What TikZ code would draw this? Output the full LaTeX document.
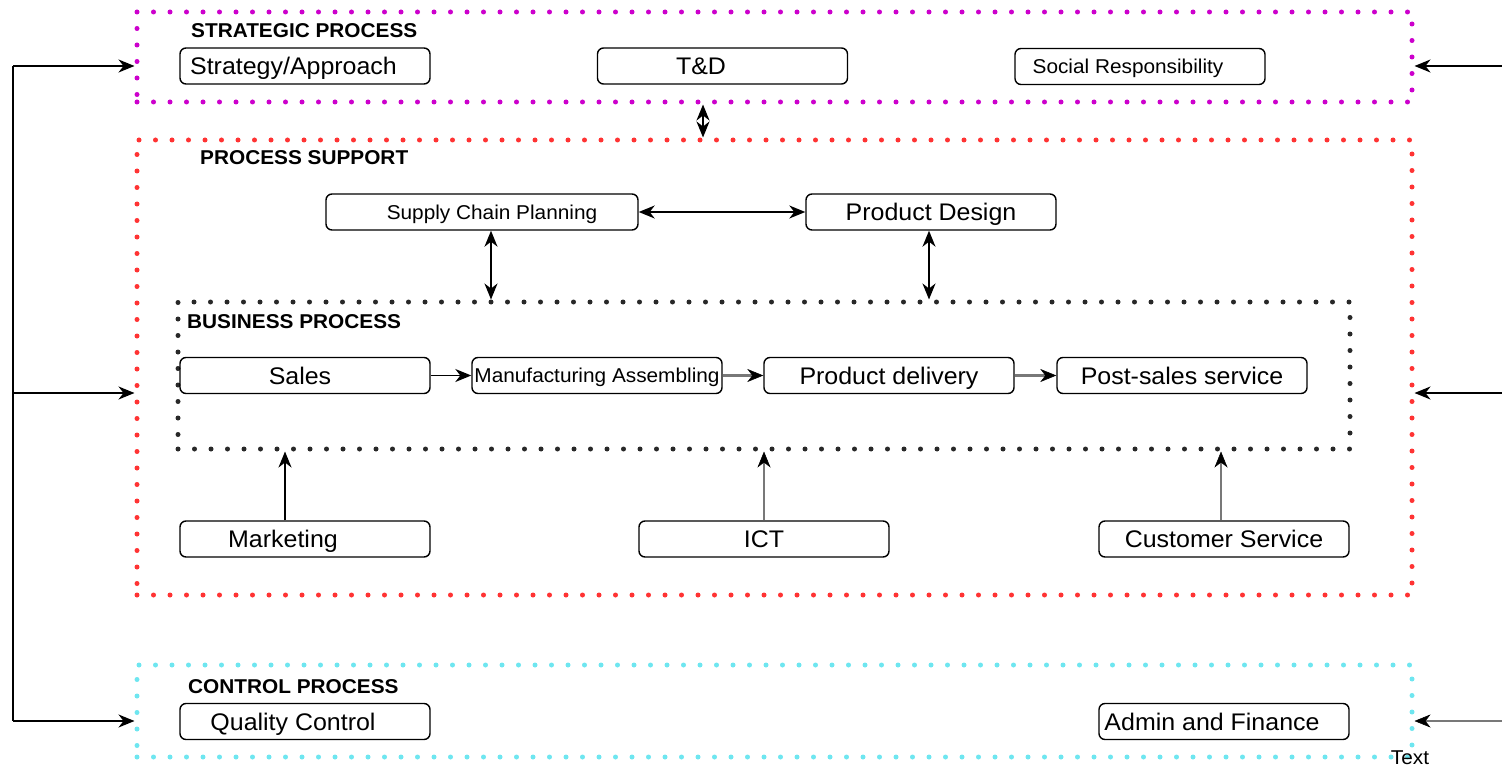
\documentclass[tikz,border=0pt]{standalone}
\usepackage{fontspec}
\setmainfont[FakeStretch=1.04]{Liberation Sans}
\usetikzlibrary{arrows.meta}
\definecolor{magc}{RGB}{204,0,204}
\definecolor{redc}{RGB}{255,51,51}
\definecolor{cyanc}{RGB}{110,230,240}
\definecolor{grayc}{RGB}{120,120,120}
\definecolor{darkc}{RGB}{40,40,40}
\tikzset{
  box/.style={draw, line width=1.4pt, rounded corners=6pt, minimum width=250pt, minimum height=36pt, inner sep=0pt, text height=17.2pt, text depth=0pt, font=\fontsize{24}{26}\selectfont},
  sbox/.style={box, text height=14.3pt, font=\fontsize{20}{22}\selectfont},
  grp/.style={line width=5pt, line cap=round, dash pattern=on 0pt off 16.5pt, inner sep=0pt},
  hdr/.style={font=\fontsize{20}{22}\selectfont\bfseries, inner sep=0pt},
  arr/.style={line width=1.5pt, -{Stealth[length=16pt,width=13pt,inset=5pt]}},
  dbl/.style={line width=1.5pt, {Stealth[length=16pt,width=13pt,inset=5pt]}-{Stealth[length=16pt,width=13pt,inset=5pt]}},
  garr/.style={draw=grayc, line width=2.4pt, -{Stealth[length=16pt,width=13pt,inset=5pt,color=black,line width=0.5pt]}}
}
\begin{document}
\begin{tikzpicture}[x=1pt,y=-1pt]
\useasboundingbox (0,0) rectangle (1502,770);
% groups
\node[grp, draw=magc, minimum width=1275pt, minimum height=90pt] (strat) at (774.5,57) {};
\node[grp, draw=redc, minimum width=1275pt, minimum height=455pt] (sup) at (774.5,367.5) {};
\node[grp, draw=darkc, minimum width=1172pt, minimum height=147pt] (bus) at (764,375.5) {};
\node[grp, draw=cyanc, minimum width=1275pt, minimum height=92pt] (ctl) at (774.5,711) {};
% headers
\node[hdr, anchor=west] (h1) at (191,31) {STRATEGIC PROCESS};
\node[hdr, anchor=west] (h2) at (200,158) {PROCESS SUPPORT};
\node[hdr, anchor=west] (h3) at (187,322) {BUSINESS PROCESS};
\node[hdr, anchor=west] (h4) at (188,687) {CONTROL PROCESS};
% strategic
\node[box] (sa) at (305,66) {Strategy/Approach\hspace*{23pt}};
\node[box] (td) at (722.5,66) {T\&D\hspace*{43pt}};
\node[sbox] (sr) at (1140,66.5) {Social Responsibility\hspace*{24pt}};
% support
\node[sbox, minimum width=312pt] (scp) at (482,212) {\hspace*{20pt}Supply Chain Planning};
\node[box] (pd) at (931,212) {Product Design};
% business
\node[box] (sales) at (305,375.5) {Sales\hspace*{10pt}};
\node[sbox] (ma) at (597,375.5) {Manufacturing Assembling};
\node[box] (del) at (889,375.5) {Product delivery};
\node[box] (post) at (1182,375.5) {Post-sales service};
% support bottom
\node[box] (mk) at (305,539) {Marketing\hspace*{44pt}};
\node[box] (ict) at (764,539) {ICT};
\node[box] (cs) at (1224,539) {Customer Service};
% control
\node[box] (qc) at (305,721.5) {Quality Control\hspace*{24pt}};
\node[box] (af) at (1224,721.5) {Admin and Finance\hspace*{24pt}};
\node[font=\fontsize{20}{22}\selectfont, inner sep=0pt] (txt) at (1410,758) {Text};
% connectors
\draw[dbl] (703,0 |- strat.south) -- (703,0 |- sup.north);
\draw[dbl] (scp.east) -- (pd.west);
\draw[dbl] (491,0 |- scp.south) -- (491,0 |- bus.north);
\draw[dbl] (929,0 |- pd.south) -- (929,0 |- bus.north);
\draw[arr] (sales.east) -- (ma.west);
\draw[garr] (ma.east) -- (del.west);
\draw[garr] (del.east) -- (post.west);
\draw[arr] (285,0 |- mk.north) -- (285,0 |- bus.south);
\draw[garr] (ict.north) -- (ict.north |- bus.south);
\draw[garr] (1221,0 |- cs.north) -- (1221,0 |- bus.south);
% left feed
\coordinate (L1) at (13,66);
\coordinate (L2) at (13,393);
\coordinate (L3) at (13,721);
\draw[line width=1.5pt] (L1) -- (L3);
\draw[arr] (L1) -- (L1 -| strat.west);
\draw[arr] (L2) -- (L2 -| sup.west);
\draw[arr] (L3) -- (L3 -| ctl.west);
% right feed
\coordinate (R1) at (1502,66);
\coordinate (R2) at (1502,393);
\coordinate (R3) at (1502,721);
\draw[arr] (R1) -- (R1 -| strat.east);
\draw[arr] (R2) -- (R2 -| sup.east);
\draw[garr] (R3) -- (R3 -| ctl.east);
\end{tikzpicture}
\end{document}
